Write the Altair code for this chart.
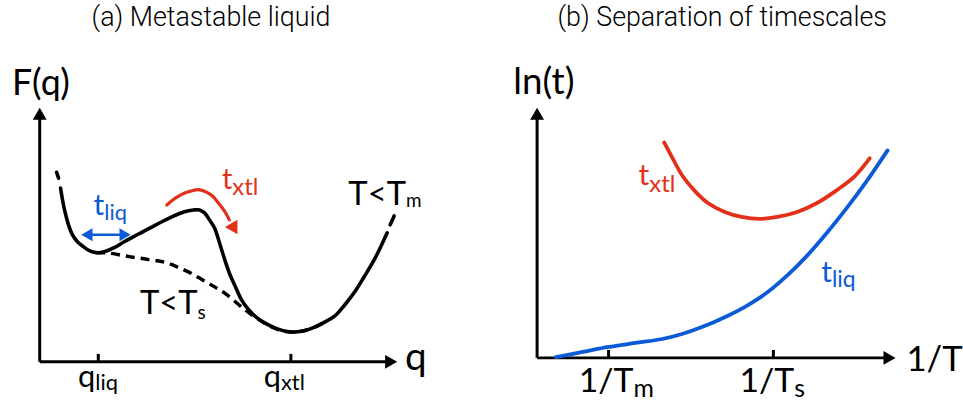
import altair as alt
import pandas as pd

FONT = "Lato"
TITLE_FONT = "Roboto"
BLACK = "#000000"
RED = "#e3301b"
BLUE = "#0c5bd6"

# ---------------- panel (a): free-energy landscape F(q) ----------------
# solid curve, T < T_m
fm_q = [2.1, 2.3, 2.5, 2.9, 3.3, 3.8, 4.4, 5.0, 5.7, 6.5, 7.5, 8.5, 10.0, 11.7,
        13.3, 14.5, 15.5, 16.1, 16.6, 17.1, 17.6, 18.2, 18.7, 19.2, 19.7, 20.3,
        21.0, 21.8, 22.7, 24.0, 25.3, 26.5, 27.7, 28.7, 29.7, 30.7, 31.7, 32.7,
        33.7, 34.4, 35.0]
fm_F = [17.5, 16.3, 15.3, 13.8, 12.8, 12.1, 11.6, 11.2, 11.0, 11.1, 11.5, 12.1,
        12.9, 13.8, 14.6, 15.1, 15.3, 15.3, 15.0, 14.3, 13.5, 11.7, 10.1, 8.7,
        7.6, 6.3, 5.3, 4.5, 3.9, 3.3, 3.0, 3.1, 3.5, 4.0, 4.6, 5.7, 7.0, 8.6,
        10.3, 11.7, 13.0]
# short dashed continuations at both ends of the T < T_m curve
stub_l_q = [1.7, 1.9]
stub_l_F = [19.1, 18.5]
stub_r_q = [35.3, 35.7]
stub_r_F = [13.8, 14.7]
# dashed curve, T < T_s (no liquid basin)
fs_q = [5.7, 7.0, 9.0, 11.0, 12.7, 14.0, 15.3, 16.5, 17.7, 18.8, 20.0, 21.0,
        22.0, 23.0, 24.2, 25.3, 26.5, 27.7, 28.7]
fs_F = [11.0, 10.95, 10.6, 10.3, 10.0, 9.5, 8.9, 8.2, 7.5, 6.8, 5.8, 5.0, 4.3,
        3.7, 3.2, 3.0, 3.1, 3.5, 4.0]
# red arc over the barrier (crystallisation time)
arc_q = [12.8, 13.4, 14.0, 14.6, 15.2, 16.0, 16.8, 17.4, 18.0, 18.6, 19.1]
arc_F = [15.8, 16.3, 16.7, 17.0, 17.2, 17.35, 17.1, 16.7, 16.0, 15.2, 14.3]
arc_head = (19.6, 13.4)
# blue double arrow inside the liquid basin
liq_q = [4.6, 8.8]
liq_F = [12.8, 12.8]
liq_heads_q = [4.75, 8.6]
# tick positions on the q axis
q_ticks = [5.9, 25.3]

# ---------------- panel (b): timescales vs 1/T ----------------
txtl_x = [12.8, 13.6, 14.6, 15.9, 17.2, 18.9, 20.6, 22.4, 24.2, 26.2, 28.2,
          30.2, 31.9, 33.5]
txtl_y = [21.7, 20.2, 18.4, 16.8, 15.6, 14.7, 14.2, 14.0, 14.2, 14.7, 15.6,
          16.9, 18.2, 20.1]
tliq_x = [1.9, 4.6, 7.2, 9.9, 12.6, 14.6, 16.6, 18.9, 21.2, 23.2, 25.2, 27.2,
          29.2, 31.2, 33.2, 35.3]
tliq_y = [0.07, 0.6, 1.1, 1.5, 1.9, 2.4, 3.1, 4.1, 5.3, 6.6, 8.3, 10.3, 12.6,
          15.1, 17.8, 20.9]
invT_ticks = [7.2, 23.8]


def scales(xdom, ydom):
    xs = alt.Scale(domain=xdom, nice=False, zero=False)
    ys = alt.Scale(domain=ydom, nice=False, zero=False)
    return xs, ys


def enc(xs, ys):
    return dict(x=alt.X("x:Q", scale=xs, axis=None),
                y=alt.Y("y:Q", scale=ys, axis=None))


def curve(xv, yv, xs, ys, color, width, dash=None):
    df = pd.DataFrame({"x": xv, "y": yv, "i": list(range(len(xv)))})
    kw = dict(color=color, strokeWidth=width, interpolate="catmull-rom",
              strokeCap="round", strokeJoin="round")
    if dash:
        kw["strokeDash"] = dash
        kw["strokeCap"] = "butt"
    return alt.Chart(df).mark_line(**kw).encode(order="i:Q", **enc(xs, ys))


def segment(x1, y1, x2, y2, xs, ys, color=BLACK, width=3):
    df = pd.DataFrame({"x": [x1], "y": [y1], "x2": [x2], "y2": [y2]})
    return alt.Chart(df).mark_rule(color=color, strokeWidth=width).encode(
        x2="x2:Q", y2="y2:Q", **enc(xs, ys))


def head(x, y, xs, ys, shape, size, color=BLACK, angle=0):
    df = pd.DataFrame({"x": [x], "y": [y]})
    return alt.Chart(df).mark_point(shape=shape, size=size, filled=True,
                                    color=color, opacity=1, strokeWidth=0,
                                    angle=angle).encode(**enc(xs, ys))


def text(x, y, s, xs, ys, size, color=BLACK, align="left", font=FONT,
         weight="normal"):
    df = pd.DataFrame({"x": [x], "y": [y], "s": [s]})
    return alt.Chart(df).mark_text(align=align, baseline="alphabetic",
                                   fontSize=size, font=font, color=color,
                                   fontWeight=weight).encode(
        text="s:N", **enc(xs, ys))


def sublabel(x, y, main, sub, xs, ys, msize, ssize, drop, color=BLACK):
    # main symbol ends at x, subscript starts there, slightly lowered
    return [text(x, y, main, xs, ys, msize, color, "right"),
            text(x, y - drop, sub, xs, ys, ssize, color, "left")]


# ---------- panel (a) ----------
xa, ya = scales([-4.0, 44.0], [-4.4, 36.3])
layers_a = [
    segment(0, 0, 0, 24.6, xa, ya),
    segment(0, 0, 35.0, 0, xa, ya),
    head(0, 25.0, xa, ya, "triangle-up", 196),
    head(35.4, 0, xa, ya, "triangle-right", 196),
]
layers_a += [segment(t, 0, t, 0.8, xa, ya) for t in q_ticks]
layers_a += [
    curve(fs_q, fs_F, xa, ya, BLACK, 3.5, dash=[9, 6]),
    curve(fm_q, fm_F, xa, ya, BLACK, 3.6),
    curve(stub_l_q, stub_l_F, xa, ya, BLACK, 3.6),
    curve(stub_r_q, stub_r_F, xa, ya, BLACK, 3.6),
    curve(arc_q, arc_F, xa, ya, RED, 3.2),
    head(arc_head[0], arc_head[1], xa, ya, "triangle-up", 210, RED, 150),
    curve(liq_q, liq_F, xa, ya, BLUE, 2.6),
    head(liq_heads_q[0], liq_F[0], xa, ya, "triangle-left", 170, BLUE),
    head(liq_heads_q[1], liq_F[1], xa, ya, "triangle-right", 170, BLUE),
    text(17.25, 33.8, "(a) Metastable liquid", xa, ya, 27, BLACK,
         "center", TITLE_FONT, 300),
    text(-2.8, 26.9, "F(q)", xa, ya, 36),
    text(36.8, -0.8, "q", xa, ya, 39),
]
layers_a += sublabel(5.6, -2.5, "q", "liq", xa, ya, 31, 22, 0.3)
layers_a += sublabel(24.3, -2.5, "q", "xtl", xa, ya, 31, 22, 0.3)
layers_a += sublabel(6.5, 14.8, "t", "liq", xa, ya, 30, 22, 0.5, BLUE)
layers_a += sublabel(19.4, 17.4, "t", "xtl", xa, ya, 29, 24, 0.6, RED)
layers_a += sublabel(36.9, 15.8, "T<T", "m", xa, ya, 33, 19, 0.2)
layers_a += sublabel(15.9, 4.8, "T<T", "s", xa, ya, 33, 19, 0.5)
panel_a = alt.layer(*layers_a).properties(width=480, height=407)

# ---------- panel (b) ----------
xb, yb = scales([-6.1, 42.2], [-4.8, 35.9])
layers_b = [
    segment(0, 0, 0, 24.2, xb, yb),
    segment(0, 0, 35.1, 0, xb, yb),
    head(0, 24.6, xb, yb, "triangle-up", 196),
    head(35.5, 0, xb, yb, "triangle-right", 196),
]
layers_b += [segment(t, 0, t, 0.8, xb, yb) for t in invT_ticks]
layers_b += [
    curve(txtl_x, txtl_y, xb, yb, RED, 3.8),
    curve(tliq_x, tliq_y, xb, yb, BLUE, 3.8),
    text(18.65, 33.4, "(b) Separation of timescales", xb, yb, 27, BLACK,
         "center", TITLE_FONT, 300),
    text(-2.4, 26.6, "ln(t)", xb, yb, 37),
    text(37.2, -1.3, "1/T", xb, yb, 35),
]
layers_b += sublabel(9.7, -3.4, "1/T", "m", xb, yb, 34, 25, 0.5)
layers_b += sublabel(25.9, -3.4, "1/T", "s", xb, yb, 34, 25, 0.5)
layers_b += sublabel(11.3, 17.4, "t", "xtl", xb, yb, 30, 24, 0.7, RED)
layers_b += sublabel(29.7, 7.6, "t", "liq", xb, yb, 30, 23, 0.5, BLUE)
panel_b = alt.layer(*layers_b).properties(width=483, height=407)

chart = (
    alt.hconcat(panel_a, panel_b, spacing=0, bounds="flush")
    .properties(padding=0, background="white")
    .configure_view(stroke=None)
)

chart.save("out.html", embed_options={"renderer": "svg", "actions": False})
